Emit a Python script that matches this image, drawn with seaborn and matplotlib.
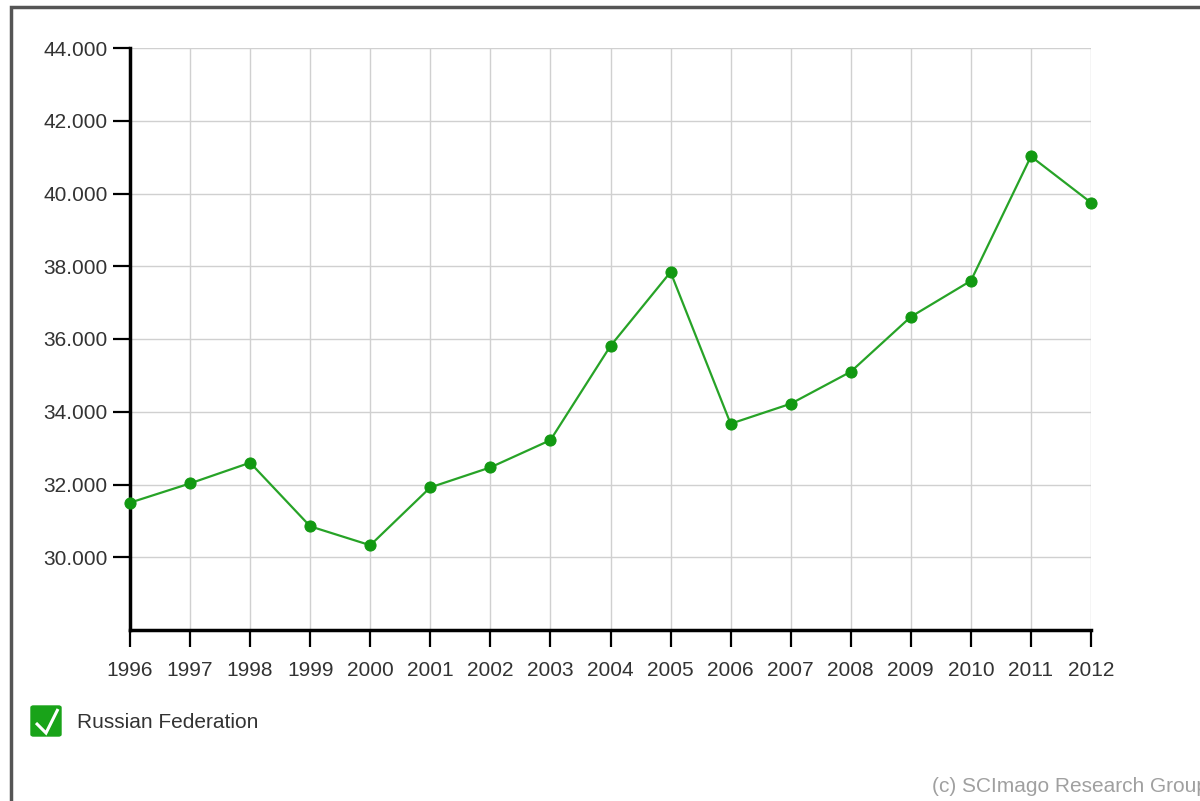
import matplotlib
matplotlib.use("Agg")
import matplotlib.pyplot as plt
import seaborn as sns
import pandas as pd
from matplotlib.patches import Rectangle, FancyBboxPatch
from matplotlib.lines import Line2D
from matplotlib.ticker import FuncFormatter

# data
years = [1996, 1997, 1998, 1999, 2000, 2001, 2002, 2003, 2004, 2005,
         2006, 2007, 2008, 2009, 2010, 2011, 2012]
docs = [31500, 32030, 32600, 30850, 30330, 31920, 32470, 33220, 35810, 37840,
        33670, 34220, 35100, 36610, 37600, 41020, 39750]
country = "Russian Federation"
y_ticks = [30000, 32000, 34000, 36000, 38000, 40000, 42000, 44000]

df = pd.DataFrame({"year": years, "docs": docs})

sns.set_style("white")
plt.rcParams["font.family"] = ["Liberation Sans", "DejaVu Sans"]

fig = plt.figure(figsize=(12, 8.01), dpi=100)
ax = fig.add_axes([130 / 1200, 1 - 630 / 801, 961 / 1200, 582 / 801])

sns.lineplot(data=df, x="year", y="docs", ax=ax, color="#27a327", linewidth=1.6,
             marker="o", markersize=8, markerfacecolor="#129912",
             markeredgecolor="#129912", zorder=3)
for ln in ax.lines:
    ln.set_clip_on(False)

ax.set_xlim(1996, 2012)
ax.set_ylim(28000, 44000)
ax.set_xticks(years)
ax.set_yticks(y_ticks)
ax.yaxis.set_major_formatter(FuncFormatter(lambda v, p: f"{v:,.0f}".replace(",", ".")))
ax.grid(True, color="#d0d0d0", linewidth=1)
ax.set_axisbelow(True)
ax.set_xlabel("")
ax.set_ylabel("")

for s in ["top", "right"]:
    ax.spines[s].set_visible(False)
for s in ["left", "bottom"]:
    ax.spines[s].set_color("black")
    ax.spines[s].set_linewidth(2.5)
ax.tick_params(axis="both", bottom=True, left=True, colors="black", length=12,
               width=1.6, labelsize=15, labelcolor="#333333", direction="out")
ax.tick_params(axis="y", pad=4)
ax.tick_params(axis="x", pad=10)

# frame around the widget
fig.patches.append(Rectangle((11 / 1200, -0.1), 1.2, (801 - 7) / 801 + 0.1,
                             transform=fig.transFigure, fill=False,
                             edgecolor="#555555", linewidth=2.5))

# legend with green check box
fig.patches.append(FancyBboxPatch((31 / 1200, 1 - 736 / 801), 30 / 1200, 30 / 801,
                                  boxstyle="round,pad=0,rounding_size=0.002",
                                  transform=fig.transFigure, facecolor="#19a319",
                                  edgecolor="#19a319"))
fig.lines.append(Line2D([36 / 1200, 46 / 1200, 58 / 1200],
                        [1 - 723 / 801, 1 - 733 / 801, 1 - 709 / 801],
                        transform=fig.transFigure, color="white", linewidth=2.2,
                        solid_capstyle="butt", solid_joinstyle="miter"))
fig.text(77 / 1200, 1 - 722 / 801, country, fontsize=15, color="#333333",
         va="center", ha="left")

fig.text(932 / 1200, 1 - 787 / 801, "(c) SCImago Research Group", fontsize=15,
         color="#a0a0a0", va="center", ha="left")

fig.savefig("out.png", dpi=100)
